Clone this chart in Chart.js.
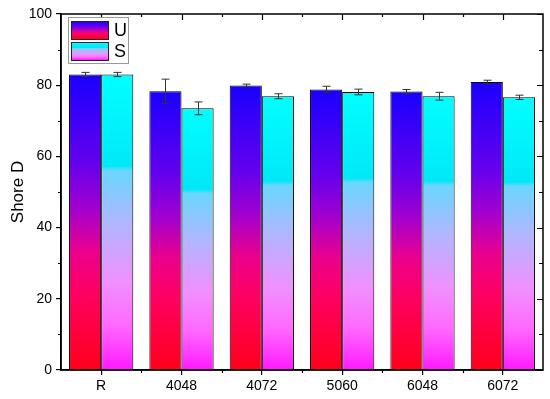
<!DOCTYPE html>
<html>
<head>
<meta charset="utf-8">
<script src="https://cdn.jsdelivr.net/npm/chart.js@4"></script>
<style>
  html, body { margin: 0; padding: 0; background: #fff; }
  #wrap { width: 550px; height: 399px; }
</style>
</head>
<body>
<div id="wrap"><canvas id="hardnessChart" width="550" height="399"></canvas></div>
<script>
const categories = ['R', '4048', '4072', '5060', '6048', '6072'];
const uValues = [83.0, 78.3, 79.9, 78.8, 78.2, 80.9];
const uErrors = [0.6, 3.4, 0.4, 0.9, 0.6, 0.5];
const sValues = [83.0, 73.5, 76.9, 78.1, 76.9, 76.6];
const sErrors = [0.6, 1.8, 0.7, 0.8, 1.1, 0.6];
const yTicks = [0, 20, 40, 60, 80, 100];
const seriesNames = ['U', 'S'];

const FONT = 'Liberation Sans, Arial, sans-serif';

// colour stops, top of bar -> bottom of bar
const uStops = [
    [0, 'rgb(25,0,255)'],
    [0.3, 'rgb(100,0,238)'],
    [0.45, 'rgb(160,0,208)'],
    [0.6, 'rgb(235,0,140)'],
    [0.75, 'rgb(255,0,95)'],
    [1, 'rgb(255,0,28)']
];
const sStops = [
    [0, 'rgb(0,255,255)'],
    [0.31, 'rgb(0,232,248)'],
    [0.325, 'rgb(105,215,255)'],
    [0.5, 'rgb(175,183,255)'],
    [0.7, 'rgb(240,145,255)'],
    [0.85, 'rgb(255,105,255)'],
    [1, 'rgb(255,25,255)']
];

function makeGradient(ctx2d, top, bottom, stops) {
    const g = ctx2d.createLinearGradient(0, top, 0, bottom);
    stops.forEach(s => g.addColorStop(s[0], s[1]));
    return g;
}

function barFill(stops) {
    return function (context) {
        const chart = context.chart;
        if (!chart.chartArea || context.type !== 'data') return stops[0][1];
        const y = chart.scales.y;
        return makeGradient(chart.ctx, y.getPixelForValue(context.raw), y.getPixelForValue(0), stops);
    };
}

const errorLists = [uErrors, sErrors];

const extrasPlugin = {
    id: 'extras',
    afterDatasetsDraw(chart) {
        const ctx = chart.ctx;
        const y = chart.scales.y;
        ctx.save();
        ctx.strokeStyle = '#333';
        ctx.lineWidth = 1;
        chart.data.datasets.forEach((ds, di) => {
            const meta = chart.getDatasetMeta(di);
            meta.data.forEach((bar, i) => {
                const v = ds.data[i];
                const e = errorLists[di][i];
                const x = Math.round(bar.x) + 0.5;
                const y1 = y.getPixelForValue(v + e);
                const y2 = y.getPixelForValue(v - e);
                ctx.beginPath();
                ctx.moveTo(x, y1); ctx.lineTo(x, y2);
                ctx.moveTo(x - 4, y1); ctx.lineTo(x + 4, y1);
                ctx.moveTo(x - 4, y2); ctx.lineTo(x + 4, y2);
                ctx.stroke();
            });
        });
        ctx.restore();
    },
    afterDraw(chart) {
        const ctx = chart.ctx;
        const a = chart.chartArea;
        const x = chart.scales.x;
        const y = chart.scales.y;
        ctx.save();
        ctx.strokeStyle = '#000';
        ctx.lineWidth = 1.5;
        ctx.strokeRect(a.left, a.top, a.right - a.left, a.bottom - a.top);

        ctx.lineWidth = 1.2;
        ctx.beginPath();
        // y minor ticks outward left, all ticks inward right
        for (let v = 0; v <= 100; v += 10) {
            const py = Math.round(y.getPixelForValue(v)) + 0.5;
            const major = v % 20 === 0;
            if (!major) {
                ctx.moveTo(a.left, py); ctx.lineTo(a.left - 3, py);
            }
            ctx.moveTo(a.right, py); ctx.lineTo(a.right - (major ? 6 : 4), py);
        }
        // x: minor ticks at boundaries (bottom outward), top inward
        const n = categories.length;
        for (let i = 0; i <= n; i++) {
            const px = Math.round(x.getPixelForValue(i - 0.5)) + 0.5;
            if (i > 0 && i < n) {
                ctx.moveTo(px, a.bottom); ctx.lineTo(px, a.bottom + 3);
                ctx.moveTo(px, a.top); ctx.lineTo(px, a.top + 3);
            }
            if (i < n) {
                const cx = Math.round(x.getPixelForValue(i)) + 0.5;
                ctx.moveTo(cx, a.top); ctx.lineTo(cx, a.top + 6);
            }
        }
        ctx.stroke();

        // legend
        const lx = a.left + 7, ly = a.top + 3;
        ctx.fillStyle = '#fff';
        ctx.fillRect(lx, ly, 60, 46);
        ctx.strokeStyle = '#999';
        ctx.lineWidth = 1;
        ctx.strokeRect(lx + 0.5, ly + 0.5, 60, 46);
        const stopsList = [uStops, sStops];
        ctx.font = '18px ' + FONT;
        ctx.textBaseline = 'middle';
        ctx.textAlign = 'left';
        seriesNames.forEach((name, i) => {
            const sy = ly + 4 + i * 21;
            ctx.fillStyle = makeGradient(ctx, sy, sy + 18, stopsList[i]);
            ctx.fillRect(lx + 3, sy, 37, 18);
            ctx.strokeStyle = '#222';
            ctx.strokeRect(lx + 3.5, sy + 0.5, 37, 18);
            ctx.fillStyle = '#000';
            ctx.fillText(name, lx + 46, sy + 10);
        });
        ctx.restore();
    }
};

new Chart(document.getElementById('hardnessChart'), {
    type: 'bar',
    data: {
        labels: categories,
        datasets: [
            {
                label: seriesNames[0],
                data: uValues,
                backgroundColor: barFill(uStops),
                borderColor: '#000',
                borderWidth: 1,
                categoryPercentage: 0.8,
                barPercentage: 1.0
            },
            {
                label: seriesNames[1],
                data: sValues,
                backgroundColor: barFill(sStops),
                borderColor: '#000',
                borderWidth: 1,
                categoryPercentage: 0.8,
                barPercentage: 1.0
            }
        ]
    },
    options: {
        responsive: false,
        animation: false,
        layout: { padding: { top: 14, right: 7, left: 0, bottom: 0 } },
        plugins: {
            legend: { display: false },
            tooltip: { enabled: false }
        },
        scales: {
            x: {
                grid: { offset: false, drawOnChartArea: false, drawTicks: true, tickLength: 5, color: '#000', lineWidth: 1.2 },
                border: { display: true, color: '#000', width: 1.5 },
                ticks: { color: '#000', font: { family: FONT, size: 14 }, padding: 3, maxRotation: 0 },
                afterFit(scale) { scale.height = 29; }
            },
            y: {
                min: 0,
                max: 100,
                afterBuildTicks(scale) { scale.ticks = yTicks.map(v => ({ value: v })); },
                grid: { drawOnChartArea: false, drawTicks: true, tickLength: 5, color: '#000', lineWidth: 1.2 },
                border: { display: true, color: '#000', width: 1.5 },
                ticks: { color: '#000', font: { family: FONT, size: 14 }, padding: 4 },
                title: { display: true, text: 'Shore D', color: '#000', font: { family: FONT, size: 17 }, padding: { top: 8, bottom: 0 } },
                afterFit(scale) { scale.width = 61; }
            }
        }
    },
    plugins: [extrasPlugin]
});
</script>
</body>
</html>
